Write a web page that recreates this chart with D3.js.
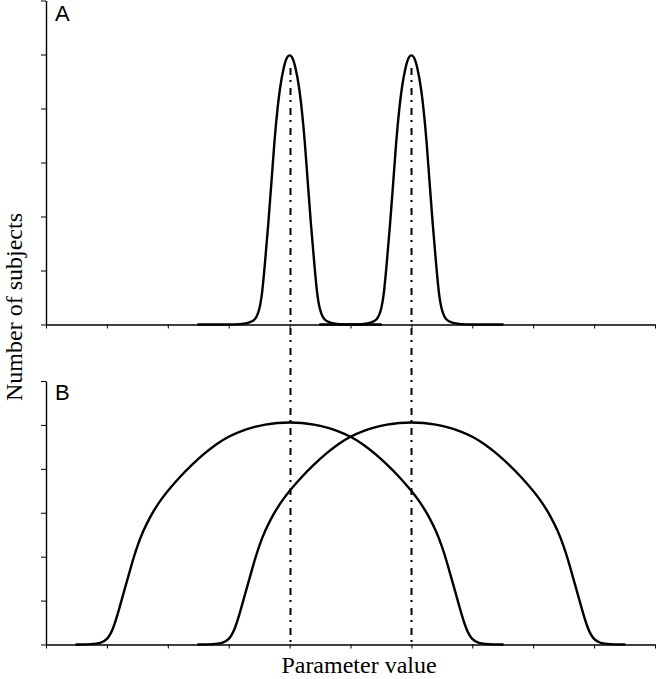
<!DOCTYPE html>
<html>
<head>
<meta charset="utf-8">
<script src="https://cdn.jsdelivr.net/npm/d3@7"></script>
<style>
  body { margin: 0; background: #fff; }
  svg { display: block; }
  .axis path, .axis line { stroke: #000; }
</style>
</head>
<body>
<svg id="chart" width="656" height="679"></svg>
<script>
// narrow distributions (panel A)
var narrow1X = [2.5, 3.0, 3.2, 3.3, 3.4, 3.45, 3.5, 3.55, 3.6, 3.65, 3.7, 3.75, 3.8, 3.85, 3.9, 3.95, 4.0,
                4.05, 4.1, 4.15, 4.2, 4.25, 4.3, 4.35, 4.4, 4.45, 4.5, 4.55, 4.6, 4.7, 4.8, 5.0, 5.5];
var narrow1Y = [0, 0, 0.005, 0.02, 0.06, 0.12, 0.25, 0.55, 1.2, 1.85, 2.6, 3.4, 4.0, 4.45, 4.75, 4.95, 5.0,
                4.95, 4.75, 4.45, 4.0, 3.4, 2.6, 1.85, 1.2, 0.55, 0.25, 0.12, 0.06, 0.02, 0.005, 0, 0];
var narrow2X = [4.5, 5.0, 5.2, 5.3, 5.4, 5.45, 5.5, 5.55, 5.6, 5.65, 5.7, 5.75, 5.8, 5.85, 5.9, 5.95, 6.0,
                6.05, 6.1, 6.15, 6.2, 6.25, 6.3, 6.35, 6.4, 6.45, 6.5, 6.55, 6.6, 6.7, 6.8, 7.0, 7.5];
var narrow2Y = [0, 0, 0.005, 0.02, 0.06, 0.12, 0.25, 0.55, 1.2, 1.85, 2.6, 3.4, 4.0, 4.45, 4.75, 4.95, 5.0,
                4.95, 4.75, 4.45, 4.0, 3.4, 2.6, 1.85, 1.2, 0.55, 0.25, 0.12, 0.06, 0.02, 0.005, 0, 0];

// wide distributions (panel B)
var wide1X = [0.5, 0.75, 0.9, 1.0, 1.1, 1.2, 1.3, 1.4, 1.5, 1.6, 1.7, 1.8, 1.9, 2.0, 2.2, 2.4, 2.6, 2.8,
              3.0, 3.2, 3.4, 3.6, 3.8, 4.0, 4.2, 4.4, 4.6, 4.8, 5.0, 5.2, 5.4, 5.6, 5.8, 6.0, 6.1, 6.2,
              6.3, 6.4, 6.5, 6.6, 6.7, 6.8, 6.9, 7.0, 7.1, 7.25, 7.5];
var wide1Y = [0, 0.005, 0.03, 0.1, 0.33, 0.8, 1.3, 1.8, 2.25, 2.6, 2.88, 3.12, 3.32, 3.5, 3.82, 4.1, 4.35, 4.57,
              4.74, 4.86, 4.95, 5.01, 5.05, 5.06, 5.05, 5.01, 4.95, 4.86, 4.74, 4.57, 4.35, 4.1, 3.82, 3.5, 3.32, 3.12,
              2.88, 2.6, 2.25, 1.8, 1.3, 0.8, 0.33, 0.1, 0.03, 0.005, 0];
var wide2X = [2.5, 2.75, 2.9, 3.0, 3.1, 3.2, 3.3, 3.4, 3.5, 3.6, 3.7, 3.8, 3.9, 4.0, 4.2, 4.4, 4.6, 4.8,
              5.0, 5.2, 5.4, 5.6, 5.8, 6.0, 6.2, 6.4, 6.6, 6.8, 7.0, 7.2, 7.4, 7.6, 7.8, 8.0, 8.1, 8.2,
              8.3, 8.4, 8.5, 8.6, 8.7, 8.8, 8.9, 9.0, 9.1, 9.25, 9.5];
var wide2Y = [0, 0.005, 0.03, 0.1, 0.33, 0.8, 1.3, 1.8, 2.25, 2.6, 2.88, 3.12, 3.32, 3.5, 3.82, 4.1, 4.35, 4.57,
              4.74, 4.86, 4.95, 5.01, 5.05, 5.06, 5.05, 5.01, 4.95, 4.86, 4.74, 4.57, 4.35, 4.1, 3.82, 3.5, 3.32, 3.12,
              2.88, 2.6, 2.25, 1.8, 1.3, 0.8, 0.33, 0.1, 0.03, 0.005, 0];

var guideX = [4, 6];
var guideTop = 4.75;

var svg = d3.select('#chart');

var scale =
{
    x: d3.scaleLinear().domain([0, 10]).range([46, 655]),
    top: { y: d3.scaleLinear().domain([0, 6]).range([324.5, 0.5]) },
    bottom: { y: d3.scaleLinear().domain([0, 6]).range([644.5, 381]) }
};

function pairs(xs, ys) {
    return xs.map(function(x, i) { return [x, ys[i]]; });
}

function drawAxes(yScale) {
    svg.append('g').attr('class', 'axis')
        .attr('transform', 'translate(0,' + yScale(0) + ')')
        .call(d3.axisBottom(scale.x).ticks(10).tickSize(4).tickSizeOuter(0).tickFormat(''))
        .call(function(g) { g.select('.domain').attr('stroke-width', 1.4); });
    svg.append('g').attr('class', 'axis')
        .attr('transform', 'translate(' + scale.x(0) + ',0)')
        .call(d3.axisLeft(yScale).ticks(6).tickSize(5).tickSizeOuter(0).tickFormat(''))
        .call(function(g) { g.select('.domain').attr('stroke-width', 1.4); });
}

drawAxes(scale.top.y);
drawAxes(scale.bottom.y);

// dash-dot guides through both panels
svg.selectAll('.guide').data(guideX).enter().append('line')
    .attr('class', 'guide')
    .attr('x1', function(d) { return Math.round(scale.x(d)) + 0.5; })
    .attr('x2', function(d) { return Math.round(scale.x(d)) + 0.5; })
    .attr('y1', scale.top.y(guideTop))
    .attr('y2', scale.bottom.y(0))
    .attr('stroke', '#000')
    .attr('stroke-width', 2)
    .attr('stroke-dasharray', '7,5,2,6');

function drawCurve(data, yScale) {
    var lineGenerator = d3.line().curve(d3.curveBasis)
        .x(function(d) { return scale.x(d[0]); })
        .y(function(d) { return yScale(d[1]); });
    svg.append('path')
        .attr('d', lineGenerator(data))
        .attr('fill', 'none')
        .attr('stroke', '#000')
        .attr('stroke-width', 2.4)
        .attr('stroke-linejoin', 'round')
        .attr('stroke-linecap', 'round');
}

drawCurve(pairs(narrow1X, narrow1Y), scale.top.y);
drawCurve(pairs(narrow2X, narrow2Y), scale.top.y);
drawCurve(pairs(wide1X, wide1Y), scale.bottom.y);
drawCurve(pairs(wide2X, wide2Y), scale.bottom.y);

// panel letters
svg.append('text').attr('x', 55).attr('y', 21).text('A')
    .attr('font-family', 'Liberation Sans, Arial, sans-serif').attr('font-size', 22);
svg.append('text').attr('x', 55).attr('y', 400).text('B')
    .attr('font-family', 'Liberation Sans, Arial, sans-serif').attr('font-size', 22);

// axis titles
svg.append('text')
    .attr('transform', 'translate(22,307) rotate(-90)')
    .attr('text-anchor', 'middle')
    .attr('font-family', 'Liberation Serif, Times New Roman, serif')
    .attr('font-size', 24)
    .text('Number of subjects');
svg.append('text')
    .attr('x', 359).attr('y', 673)
    .attr('text-anchor', 'middle')
    .attr('font-family', 'Liberation Serif, Times New Roman, serif')
    .attr('font-size', 24)
    .text('Parameter value');
</script>
</body>
</html>
